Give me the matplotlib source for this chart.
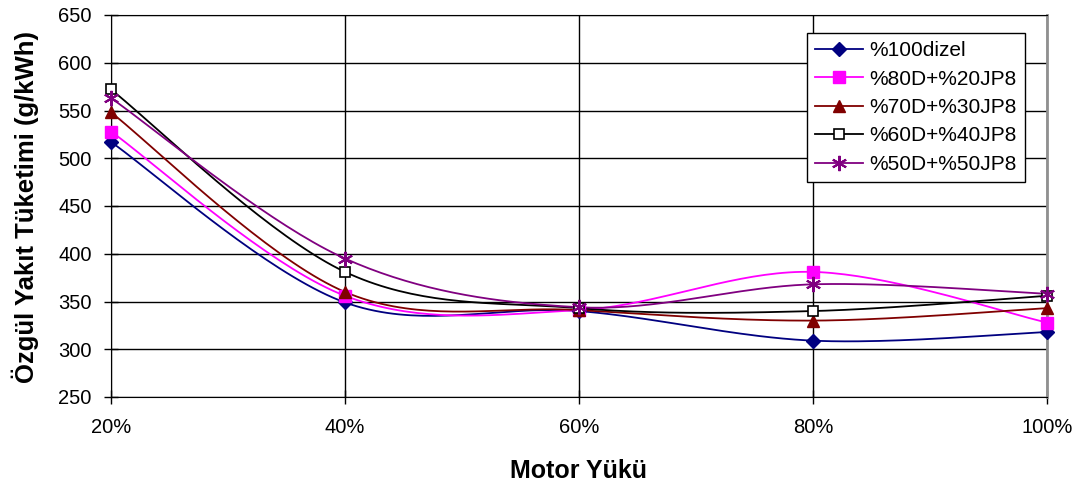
import numpy as np
import matplotlib.pyplot as plt

plt.rcParams['font.family'] = ['Liberation Sans', 'DejaVu Sans']

loads = [20, 40, 60, 80, 100]
tick_labels = ['20%', '40%', '60%', '80%', '100%']
labels = ['%100dizel', '%80D+%20JP8', '%70D+%30JP8', '%60D+%40JP8', '%50D+%50JP8']
dizel100 = [517, 349, 340, 309, 318]
d80_jp20 = [528, 356, 341, 381, 328]
d70_jp30 = [548, 360, 341, 330, 343]
d60_jp40 = [572, 381, 343, 340, 356]
d50_jp50 = [563, 395, 344, 368, 358]
series = [dizel100, d80_jp20, d70_jp30, d60_jp40, d50_jp50]

colors = ['#000080', '#FF00FF', '#800000', '#000000', '#800080']


def smooth(x, y, sx=937 / 80, sy=382 / 400, n=40):
    # Excel-like bezier smoothing, done in pixel-ish space
    p = np.column_stack([np.asarray(x, float) * sx, np.asarray(y, float) * sy])
    pts = np.vstack([p[0], p, p[-1]])
    out = []
    t = np.linspace(0, 1, n)[:, None]
    for i in range(1, len(pts) - 2):
        p0, p3 = pts[i], pts[i + 1]
        c1 = p0 + (pts[i + 1] - pts[i - 1]) / 6
        c2 = p3 - (pts[i + 2] - pts[i]) / 6
        seg = (1 - t) ** 3 * p0 + 3 * (1 - t) ** 2 * t * c1 + 3 * (1 - t) * t ** 2 * c2 + t ** 3 * p3
        out.append(seg if i == 1 else seg[1:])
    out = np.vstack(out)
    return out[:, 0] / sx, out[:, 1] / sy


# marker style for each series
mstyles = [
    dict(marker='D', ms=7.5, mfc='#000080', mec='#000080'),
    dict(marker='s', ms=8, mfc='#FF00FF', mec='#FF00FF'),
    dict(marker='^', ms=9, mfc='#800000', mec='#800000'),
    dict(marker='s', ms=7, mfc='white', mec='#000000', mew=1.2),
    dict(marker=(6, 2, 0), ms=11, mec='#800080', mew=1.5),
]

fig = plt.figure(figsize=(10.9, 4.93), dpi=100)
ax = fig.add_axes([111 / 1090, 1 - 397 / 493, 936 / 1090, 382 / 493])

for vals, lab, c, st in zip(series, labels, colors, mstyles):
    xs, ys = smooth(loads, vals)
    ax.plot(xs, ys, color=c, lw=1.3)
    ax.plot(loads, vals, ls='none', clip_on=False, zorder=3, **st)
    ax.plot([], [], color=c, lw=1.3, label=lab, **st)

ax.set_xlim(20, 100)
ax.set_ylim(250, 650)
ax.set_xticks(loads)
ax.set_xticklabels(tick_labels)
ax.set_yticks(np.arange(250, 651, 50))
ax.grid(True, color='black', lw=1.0)
ax.set_axisbelow(True)
ax.tick_params(labelsize=14.5, length=10, width=1, color='black', direction='inout')
ax.tick_params(axis='y', pad=9)
ax.tick_params(axis='x', pad=10)
for s in ['left', 'bottom', 'top']:
    ax.spines[s].set_color('black')
ax.spines['right'].set_color('#909090')
ax.spines['right'].set_linewidth(2)

fig.text(25 / 1090, 1 - 207 / 493, 'Özgül Yakıt Tüketimi (g/kWh)', rotation=90,
         ha='center', va='center', fontsize=18.5, fontweight='bold')
fig.text(579 / 1090, 1 - 471 / 493, 'Motor Yükü', ha='center', va='center',
         fontsize=18, fontweight='bold')

leg = ax.legend(loc='upper right', bbox_to_anchor=(1025 / 1090, 1 - 33 / 493),
                bbox_transform=fig.transFigure, fontsize=15, frameon=True,
                fancybox=False, edgecolor='black', framealpha=1, borderaxespad=0,
                handlelength=2.3, labelspacing=0.45, borderpad=0.4, handletextpad=0.3)
leg.get_frame().set_linewidth(1.0)

fig.savefig('out.png', dpi=100)
